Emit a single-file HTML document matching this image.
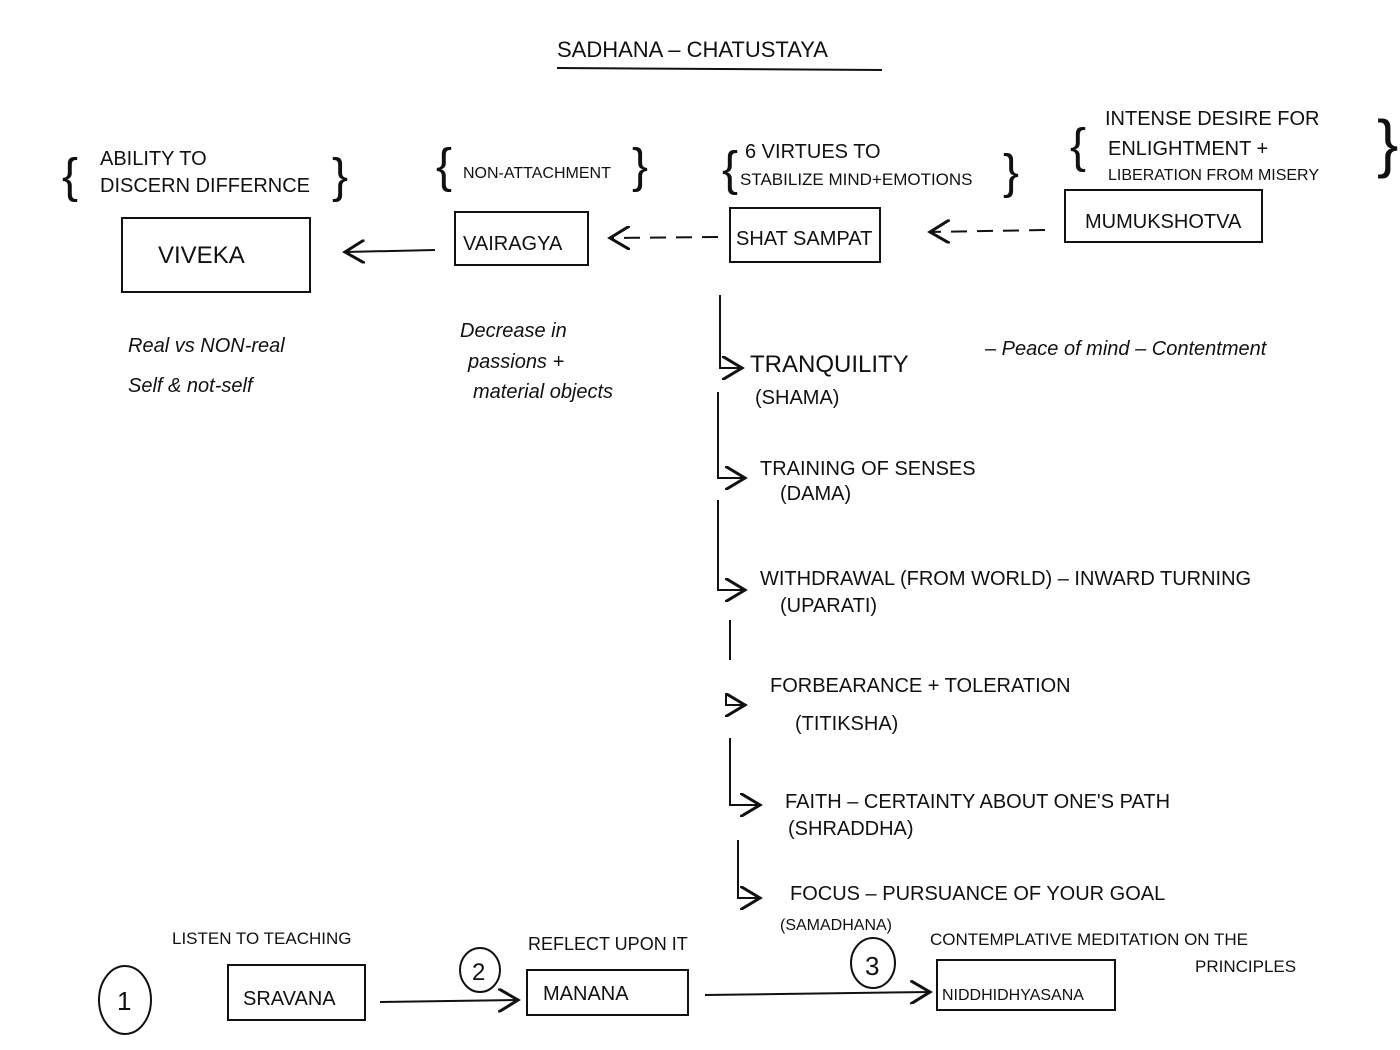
<!DOCTYPE html>
<html><head><meta charset="utf-8"><style>
html,body{margin:0;padding:0;background:#fff;}
svg{display:block;}
text{font-family:"Liberation Sans",sans-serif;fill:#111;}
</style></head><body>
<svg width="1400" height="1050" viewBox="0 0 1400 1050" xmlns="http://www.w3.org/2000/svg">
<defs><marker id="a" markerWidth="12" markerHeight="12" refX="10" refY="6" orient="auto"><path d="M0,0 L10,6 L0,12" fill="none" stroke="#111" stroke-width="1.5"/></marker></defs>
<g stroke="#111" stroke-width="2" fill="none">
<line x1="557" y1="68" x2="882" y2="70"/>
<rect x="122" y="218" width="188" height="74"/>
<rect x="455" y="212" width="133" height="53"/>
<rect x="730" y="208" width="150" height="54"/>
<rect x="1065" y="190" width="197" height="52"/>
<line x1="435" y1="250" x2="345" y2="252" marker-end="url(#a)"/>
<line x1="718" y1="237" x2="610" y2="238" stroke-dasharray="16,10" marker-end="url(#a)"/>
<line x1="1045" y1="230" x2="930" y2="232" stroke-dasharray="16,10" marker-end="url(#a)"/>
<path d="M720 295 V368 H742" marker-end="url(#a)"/>
<path d="M718 392 V478 H745" marker-end="url(#a)"/>
<path d="M718 500 V590 H745" marker-end="url(#a)"/>
<path d="M730 620 V660"/>
<path d="M726 695 V705 H745" marker-end="url(#a)"/>
<path d="M730 738 V805 H760" marker-end="url(#a)"/>
<path d="M738 840 V898 H760" marker-end="url(#a)"/>
<ellipse cx="125" cy="1000" rx="26" ry="34"/>
<ellipse cx="480" cy="970" rx="20" ry="22"/>
<ellipse cx="873" cy="963" rx="22" ry="25"/>
<rect x="228" y="965" width="137" height="55"/>
<rect x="527" y="970" width="161" height="45"/>
<rect x="937" y="960" width="178" height="50"/>
<line x1="380" y1="1002" x2="518" y2="1000" marker-end="url(#a)"/>
<line x1="705" y1="995" x2="930" y2="992" marker-end="url(#a)"/>
</g>
<g font-size="48" font-weight="100">
<text x="62" y="192">{</text><text x="332" y="192">}</text>
<text x="436" y="182">{</text><text x="632" y="182">}</text>
<text x="722" y="185">{</text><text x="1003" y="188">}</text>
<text x="1070" y="162">{</text><text x="1377" y="165" font-size="64">}</text>
</g>
<g font-size="20">
<text x="557" y="57" font-size="22">SADHANA  –  CHATUSTAYA</text>
<text x="100" y="165">ABILITY TO</text>
<text x="100" y="192">DISCERN DIFFERNCE</text>
<text x="158" y="263" font-size="24">VIVEKA</text>
<text x="463" y="178" font-size="16">NON-ATTACHMENT</text>
<text x="463" y="250">VAIRAGYA</text>
<text x="745" y="158">6 VIRTUES TO</text>
<text x="740" y="185" font-size="17">STABILIZE MIND+EMOTIONS</text>
<text x="736" y="245">SHAT SAMPAT</text>
<text x="1105" y="125">INTENSE DESIRE FOR</text>
<text x="1108" y="155">ENLIGHTMENT  +</text>
<text x="1108" y="180" font-size="16">LIBERATION FROM MISERY</text>
<text x="1085" y="228">MUMUKSHOTVA</text>
<text x="128" y="352" font-style="italic">Real vs NON-real</text>
<text x="128" y="392" font-style="italic">Self &amp; not-self</text>
<text x="460" y="337" font-style="italic">Decrease in</text>
<text x="468" y="368" font-style="italic">passions +</text>
<text x="473" y="398" font-style="italic">material objects</text>
<text x="750" y="372" font-size="24">TRANQUILITY</text>
<text x="755" y="404">(SHAMA)</text>
<text x="985" y="355" font-style="italic">– Peace of mind  – Contentment</text>
<text x="760" y="475">TRAINING  OF SENSES</text>
<text x="780" y="500">(DAMA)</text>
<text x="760" y="585">WITHDRAWAL (FROM WORLD)  – INWARD  TURNING</text>
<text x="780" y="612">(UPARATI)</text>
<text x="770" y="692">FORBEARANCE + TOLERATION</text>
<text x="795" y="730">(TITIKSHA)</text>
<text x="785" y="808">FAITH  – CERTAINTY ABOUT ONE'S PATH</text>
<text x="788" y="835">(SHRADDHA)</text>
<text x="790" y="900">FOCUS   – PURSUANCE OF YOUR GOAL</text>
<text x="780" y="930" font-size="16">(SAMADHANA)</text>
<text x="172" y="944" font-size="17">LISTEN TO TEACHING</text>
<text x="528" y="950" font-size="18">REFLECT UPON IT</text>
<text x="930" y="945" font-size="17">CONTEMPLATIVE MEDITATION ON THE</text>
<text x="1195" y="972" font-size="17">PRINCIPLES</text>
<text x="117" y="1010" font-size="26">1</text>
<text x="472" y="980" font-size="24">2</text>
<text x="865" y="975" font-size="26">3</text>
<text x="243" y="1005">SRAVANA</text>
<text x="543" y="1000">MANANA</text>
<text x="942" y="1000" font-size="16">NIDDHIDHYASANA</text>
</g>
</svg>
</body></html>
